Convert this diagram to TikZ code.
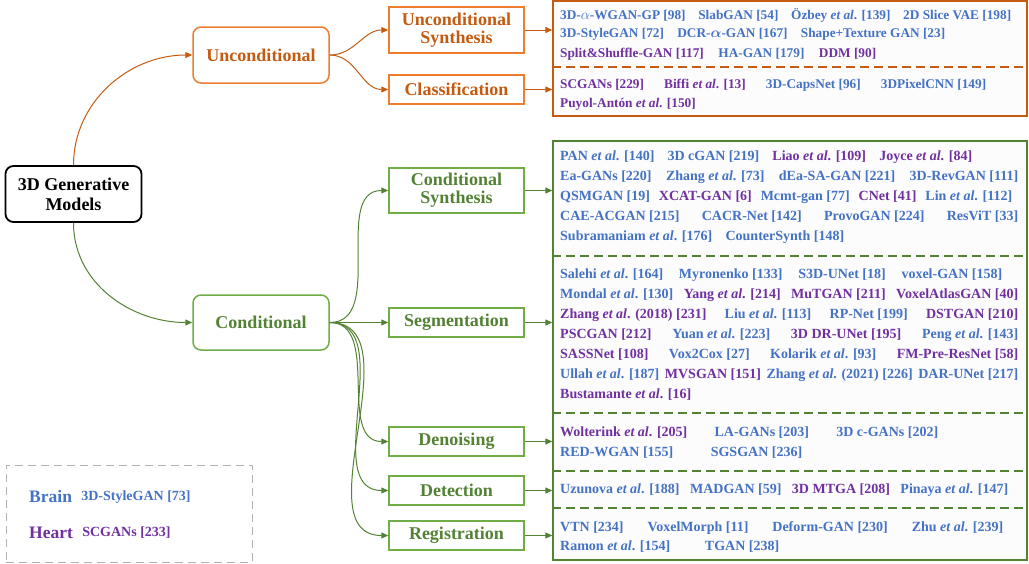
\documentclass[tikz,border=0pt]{standalone}
\usepackage{fontspec}
\setmainfont{Liberation Serif}
\usepackage{xcolor}
\usepackage{tikz}
\usetikzlibrary{arrows.meta,positioning}

\definecolor{orline}{HTML}{C55A11}
\definecolor{orbord}{HTML}{ED7D31}
\definecolor{grline}{HTML}{548235}
\definecolor{grbord}{HTML}{70AD47}
\definecolor{refblue}{HTML}{4472C4}
\definecolor{refpurple}{HTML}{7030A0}

\newcommand{\bl}[1]{\textcolor{refblue}{#1}}
\newcommand{\pu}[1]{\textcolor{refpurple}{#1}}
\newcommand{\etal}{\textit{et al}.}
\newcommand{\row}[2]{\makebox[#1pt][s]{#2}}

\tikzset{
  topbox/.style={draw, rounded corners=8pt, line width=1.5pt, fill=white,
    minimum width=136pt, minimum height=56pt, align=center,
    font=\fontsize{18}{20}\selectfont\bfseries},
  taskbox/.style={draw, line width=1.5pt, fill=white, minimum width=135pt,
    minimum height=29pt, align=center, inner sep=1pt,
    font=\fontsize{18}{20}\selectfont\bfseries},
  listbox/.style={draw, line width=1.3pt, fill=white!98!gray, minimum width=474pt},
  item/.style={anchor=west, inner sep=0pt, font=\fontsize{14}{16}\selectfont\bfseries},
  oitem/.style={item, font=\fontsize{13.3}{16}\selectfont\bfseries},
  link/.style={line width=1pt, -{Triangle[length=7pt,width=6pt]}},
  sep/.style={line width=1.2pt, dash pattern=on 9pt off 5pt}
}

\begin{document}
\begin{tikzpicture}[x=1pt, y=-1pt]
  \useasboundingbox (0,0) rectangle (1029,563);

  % list boxes
  \node[listbox, draw=orline, minimum height=115pt] (obox) at (790,58.5) {};
  \node[listbox, draw=grline, minimum height=419pt] (gbox) at (790,350.5) {};
  \draw[sep, orline] (obox.west |- 0,67) -- (obox.east |- 0,67);
  \foreach \yy in {256,413,471,508}
    \draw[sep, grline] (gbox.west |- 0,\yy) -- (gbox.east |- 0,\yy);

  % tree
  \node[topbox, draw=black, line width=1.8pt] (root) at (73.5,194) {3D Generative\\Models};
  \node[topbox, draw=orbord, text=orline] (uncond) at (261,55) {Unconditional};
  \node[topbox, draw=grbord, text=grline, minimum height=55pt] (cond) at (261,322.5) {Conditional};

  \node[taskbox, draw=orbord, text=orline, minimum height=46pt] (usynth) at (456.5,30) {Unconditional\\[-2pt]Synthesis};
  \node[taskbox, draw=orbord, text=orline] (classif) at (456.5,89.5) {Classification};
  \node[taskbox, draw=grbord, text=grline, minimum height=45pt] (csynth) at (456.5,190.5) {Conditional\\[-2pt]Synthesis};
  \node[taskbox, draw=grbord, text=grline] (segm) at (456.5,322.5) {Segmentation};
  \node[taskbox, draw=grbord, text=grline] (denoise) at (456.5,441.5) {Denoising};
  \node[taskbox, draw=grbord, text=grline] (detect) at (456.5,490.5) {Detection};
  \node[taskbox, draw=grbord, text=grline] (regist) at (456.5,535.5) {Registration};

  \draw[link, orline] (root.north) to[out=90,in=180] (uncond.west);
  \draw[link, grline] (root.south) to[out=-90,in=180] (cond.west);
  \draw[link, orline] (uncond.east) to[out=0,in=180] (usynth.west);
  \draw[link, orline] (uncond.east) to[out=0,in=180] (classif.west);
  \foreach \t in {csynth,denoise,detect,regist}
    \draw[link, grline] (cond.east) to[out=0,in=180] (\t.west);
  \draw[link, grline] (cond.east) -- (segm.west);

  \draw[link, orline] (usynth.east) -- (usynth.east -| obox.west);
  \draw[link, orline] (classif.east) -- (classif.east -| obox.west);
  \foreach \t in {csynth,segm,denoise,detect,regist}
    \draw[link, grline] (\t.east) -- (\t.east -| gbox.west);

  % unconditional lists
  \node[oitem] (u1) at (560,15) {\row{451}{\bl{3D-$\alpha$-WGAN-GP [98]}\hfill\bl{SlabGAN [54]}\hfill\bl{Özbey \etal{} [139]}\hfill\bl{2D Slice VAE [198]}}};
  \node[oitem] (u2) at (560,34) {\row{385}{\bl{3D-StyleGAN [72]}\hfill\bl{DCR-{\boldmath$\alpha$}-GAN [167]}\hfill\bl{Shape+Texture GAN [23]}}};
  \node[oitem] (u3) at (560,54) {\row{316}{\pu{Split\&Shuffle-GAN [117]}\hfill\bl{HA-GAN [179]}\hfill\pu{DDM [90]}}};
  \node[oitem] (u4) at (560,85) {\row{426}{\pu{SCGANs [229]}\hfill\pu{Biffi \etal{} [13]}\hfill\bl{3D-CapsNet [96]}\hfill\bl{3DPixelCNN [149]}}};
  \node[oitem] (u5) at (560,104) {\pu{Puyol-Antón \etal{} [150]}};

  % conditional synthesis
  \node[item] (c1) at (560,157) {\row{412}{\bl{PAN \etal{} [140]}\hfill\bl{3D cGAN [219]}\hfill\pu{Liao \etal{} [109]}\hfill\pu{Joyce \etal{} [84]}}};
  \node[item] (c2) at (560,177) {\row{458}{\bl{Ea-GANs [220]}\hfill\bl{Zhang \etal{} [73]}\hfill\bl{dEa-SA-GAN [221]}\hfill\bl{3D-RevGAN [111]}}};
  \node[item] (c3) at (560,197) {\row{452}{\bl{QSMGAN [19]}\hfill\pu{XCAT-GAN [6]}\hfill\bl{Mcmt-gan [77]}\hfill\pu{CNet [41]}\hfill\bl{Lin \etal{} [112]}}};
  \node[item] (c4) at (560,217) {\row{458}{\bl{CAE-ACGAN [215]}\hfill\bl{CACR-Net [142]}\hfill\bl{ProvoGAN [224]}\hfill\bl{ResViT [33]}}};
  \node[item] (c5) at (560,237) {\row{284}{\bl{Subramaniam \etal{} [176]}\hfill\bl{CounterSynth [148]}}};

  % segmentation
  \node[item] (s1) at (560,275) {\row{442}{\bl{Salehi \etal{} [164]}\hfill\bl{Myronenko [133]}\hfill\bl{S3D-UNet [18]}\hfill\bl{voxel-GAN [158]}}};
  \node[item] (s2) at (560,295) {\row{458}{\bl{Mondal \etal{} [130]}\hfill\pu{Yang \etal{} [214]}\hfill\pu{MuTGAN [211]}\hfill\pu{VoxelAtlasGAN [40]}}};
  \node[item] (s3) at (560,315) {\row{458}{\pu{Zhang \etal{} (2018) [231]}\hfill\bl{Liu \etal{} [113]}\hfill\bl{RP-Net [199]}\hfill\pu{DSTGAN [210]}}};
  \node[item] (s4) at (560,335) {\row{458}{\pu{PSCGAN [212]}\hfill\bl{Yuan \etal{} [223]}\hfill\pu{3D DR-UNet [195]}\hfill\bl{Peng \etal{} [143]}}};
  \node[item] (s5) at (560,355) {\row{458}{\pu{SASSNet [108]}\hfill\bl{Vox2Cox [27]}\hfill\bl{Kolarik \etal{} [93]}\hfill\pu{FM-Pre-ResNet [58]}}};
  \node[item] (s6) at (560,375) {\row{458}{\bl{Ullah \etal{} [187]}\hfill\pu{MVSGAN [151]}\hfill\bl{Zhang \etal{} (2021) [226]}\hfill\bl{DAR-UNet [217]}}};
  \node[item] (s7) at (560,395) {\pu{Bustamante \etal{} [16]}};

  % denoising, detection, registration
  \node[item] (d1) at (560,433) {\row{378}{\pu{Wolterink \etal{} [205]}\hfill\bl{LA-GANs [203]}\hfill\bl{3D c-GANs [202]}}};
  \node[item] (d2) at (560,453) {\row{242}{\bl{RED-WGAN [155]}\hfill\bl{SGSGAN [236]}}};
  \node[item] (t1) at (560,490) {\row{448}{\bl{Uzunova \etal{} [188]}\hfill\bl{MADGAN [59]}\hfill\pu{3D MTGA [208]}\hfill\bl{Pinaya \etal{} [147]}}};
  \node[item] (r1) at (560,528) {\row{443}{\bl{VTN [234]}\hfill\bl{VoxelMorph [11]}\hfill\bl{Deform-GAN [230]}\hfill\bl{Zhu \etal{} [239]}}};
  \node[item] (r2) at (560,547) {\row{219}{\bl{Ramon \etal{} [154]}\hfill\bl{TGAN [238]}}};

  % legend
  \node[draw=gray!60, line width=1pt, dash pattern=on 8pt off 5pt,
    minimum width=246pt, minimum height=97pt] (legend) at (129,513.5) {};
  \node[item, font=\fontsize{17.5}{20}\selectfont\bfseries] (brain) at (29,497) {\bl{Brain}};
  \node[item, right=9pt of brain, font=\fontsize{14}{16}\selectfont\bfseries] (brainex) {\bl{3D-StyleGAN [73]}};
  \node[item, font=\fontsize{17.5}{20}\selectfont\bfseries] (heart) at (29,533) {\pu{Heart}};
  \node[item, right=9pt of heart, font=\fontsize{14}{16}\selectfont\bfseries] (heartex) {\pu{SCGANs [233]}};
\end{tikzpicture}
\end{document}
